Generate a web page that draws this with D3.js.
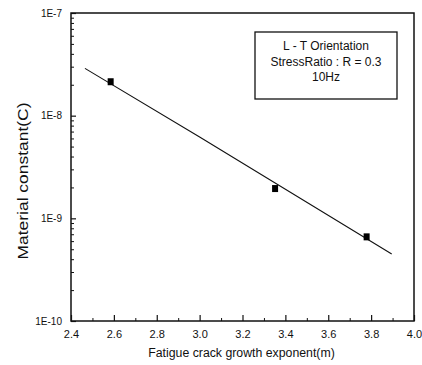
<!DOCTYPE html>
<html>
<head>
<meta charset="utf-8">
<script src="https://cdn.jsdelivr.net/npm/d3@7"></script>
<style>
  html, body { margin: 0; padding: 0; background: #fff; }
  svg { display: block; }
  text { font-family: "Liberation Sans", Arial, sans-serif; fill: #111; }
</style>
</head>
<body>
<svg id="chart" width="422" height="365"></svg>
<script>
// ---- data ----
const pointX = [2.585, 3.352, 3.779];
const pointC = [2.14e-8, 1.95e-9, 6.6e-10];
const fitX = [2.465, 3.0, 3.896];
const fitC = [2.89e-8, 6.2e-9, 4.5e-10];
const xTicks = [2.4, 2.6, 2.8, 3.0, 3.2, 3.4, 3.6, 3.8, 4.0];
const xTickLabels = ["2.4", "2.6", "2.8", "3.0", "3.2", "3.4", "3.6", "3.8", "4.0"];
const yTicks = [1e-7, 1e-8, 1e-9, 1e-10];
const yTickLabels = ["1E-7", "1E-8", "1E-9", "1E-10"];
const legendLines = ["L - T Orientation", "StressRatio : R = 0.3", "10Hz"];
const xTitle = "Fatigue crack growth exponent(m)";
const yTitle = "Material constant(C)";

// ---- layout ----
const L = 71, R = 414, T = 13, B = 321;
const svg = d3.select("#chart");
const x = d3.scaleLinear().domain([2.4, 4.0]).range([L, R]);
const y = d3.scaleLog().domain([1e-10, 1e-7]).range([B, T]);

// minor ticks
const xMinor = d3.range(0, 8).map(i => 2.5 + i * 0.2);
const yMinor = [];
[-10, -9, -8].forEach(e => { for (let k = 2; k <= 9; k++) yMinor.push(k * Math.pow(10, e)); });

// bottom axis (ticks inward)
const xAxis = d3.axisBottom(x).tickValues(xTicks).tickSize(-6)
  .tickFormat((d, i) => xTickLabels[i]).tickPadding(9);
const gx = svg.append("g").attr("transform", `translate(0,${B})`).call(xAxis);
gx.select(".domain").remove();
gx.selectAll("text").attr("font-size", 11).attr("font-family", "Liberation Sans, Arial, sans-serif");
gx.selectAll(".tick line").attr("stroke", "#111").attr("stroke-width", 1.2);
svg.append("g").attr("transform", `translate(0,${B})`)
  .call(d3.axisBottom(x).tickValues(xMinor).tickSize(-3).tickFormat(""))
  .call(g => g.select(".domain").remove())
  .selectAll(".tick line").attr("stroke", "#111");

// left axis
const yAxis = d3.axisLeft(y).tickValues(yTicks).tickSize(-5)
  .tickFormat((d, i) => yTickLabels[i]).tickPadding(9);
const gy = svg.append("g").attr("transform", `translate(${L},0)`).call(yAxis);
gy.select(".domain").remove();
gy.selectAll("text").attr("font-size", 10).attr("font-family", "Liberation Sans, Arial, sans-serif");
gy.selectAll(".tick line").attr("stroke", "#111").attr("stroke-width", 1.2);
svg.append("g").attr("transform", `translate(${L},0)`)
  .call(d3.axisLeft(y).tickValues(yMinor).tickSize(-3).tickFormat(""))
  .call(g => g.select(".domain").remove())
  .selectAll(".tick line").attr("stroke", "#111");

// frame
svg.append("rect").attr("x", L).attr("y", T).attr("width", R - L).attr("height", B - T)
  .attr("fill", "none").attr("stroke", "#111").attr("stroke-width", 1.5);

// fit line
const line = d3.line().x(d => x(d[0])).y(d => y(d[1]));
svg.append("path").datum(fitX.map((v, i) => [v, fitC[i]]))
  .attr("d", line).attr("fill", "none").attr("stroke", "#111").attr("stroke-width", 1.1);

// points
svg.selectAll(".pt").data(pointX.map((v, i) => [v, pointC[i]])).enter().append("rect")
  .attr("class", "pt")
  .attr("x", d => x(d[0]) - 3).attr("y", d => y(d[1]) - 3.5)
  .attr("width", 6).attr("height", 7).attr("fill", "#000");

// legend box
svg.append("rect").attr("x", 255).attr("y", 32).attr("width", 142).attr("height", 67)
  .attr("fill", "#fff").attr("stroke", "#111").attr("stroke-width", 1.3);
svg.selectAll(".leg").data(legendLines).enter().append("text")
  .attr("x", 326).attr("y", (d, i) => 50 + i * 15.5)
  .attr("text-anchor", "middle").attr("font-size", 12).text(d => d);

// axis titles
svg.append("text").attr("x", (L + R) / 2 - 1).attr("y", 357)
  .attr("text-anchor", "middle").attr("font-size", 12.3).text(xTitle);
svg.append("text").attr("transform", "translate(28,181) rotate(-90)")
  .attr("text-anchor", "middle").attr("font-size", 15)
  .attr("textLength", 157).attr("lengthAdjust", "spacingAndGlyphs").text(yTitle);
</script>
</body>
</html>
